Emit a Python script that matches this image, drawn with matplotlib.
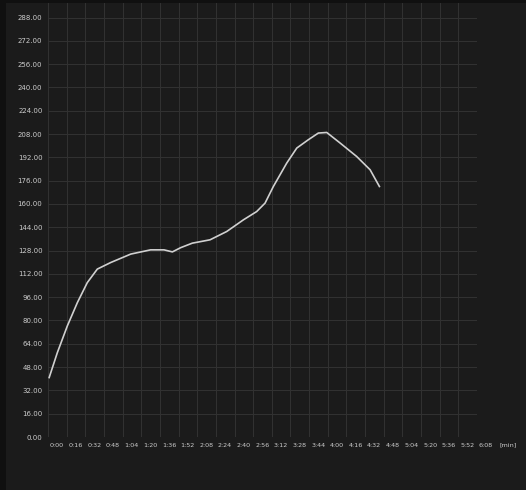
import matplotlib
matplotlib.use("Agg")
import matplotlib.pyplot as plt
from matplotlib.patches import Rectangle
import matplotlib.transforms as mtransforms

# time in seconds, value
times = [1, 8, 16.6, 25.2, 33.7, 42.3, 53.8, 71, 88, 99.5, 106.7, 113.8, 123.8,
         139, 153.3, 167.6, 179, 186.2, 193.3, 204.8, 213.4, 223.3, 231.9, 239.1,
         250.5, 264.8, 276.3, 284.3]
values = [40.8, 57.9, 76.3, 92.3, 106, 115.3, 119.8, 125.6, 128.5, 128.5, 127.1, 130, 133.1,
          135.4, 141.1, 149.1, 154.8, 160.6, 172, 188.1, 198.4, 204.1, 208.7, 209.1,
          201.9, 192.6, 183.5, 172]

y_ticks = list(range(0, 289, 16))
x_ticks = list(range(0, 369, 16))
x_labels = [f"{t // 60}:{t % 60:02d}" for t in x_ticks]
y_labels = [f"{v:.2f}" for v in y_ticks]

W, H = 526, 490
fig = plt.figure(figsize=(W / 100, H / 100), dpi=100)
fig.patch.set_facecolor("#1b1b1b")
# darker strips on left and top edges
fig.add_artist(Rectangle((0, 0), 6 / W, 1, transform=fig.transFigure,
                         facecolor="#101010", edgecolor="none", zorder=-5))
fig.add_artist(Rectangle((0, 1 - 3 / H), 1, 3 / H, transform=fig.transFigure,
                         facecolor="#101010", edgecolor="none", zorder=-5))

ax = fig.add_axes([48 / W, 1 - 437 / H, (477 - 48) / W, (437 - 3) / H])
ax.set_facecolor("#1b1b1b")
ax.set_xlim(0, 368)
ax.set_ylim(0, 298)
for s in ax.spines.values():
    s.set_visible(False)

ax.set_xticks(x_ticks)
ax.set_xticklabels(x_labels)
ax.set_yticks(y_ticks)
ax.set_yticklabels(y_labels)
ax.tick_params(axis="both", length=0, colors="#cccccc")
ax.tick_params(axis="x", labelsize=4.6, pad=4)
ax.tick_params(axis="y", labelsize=5.0, pad=4)
offset = mtransforms.ScaledTranslation(2 / 100, 0, fig.dpi_scale_trans)
for lab in ax.get_xticklabels():
    lab.set_horizontalalignment("left")
    lab.set_transform(lab.get_transform() + offset)

ax.grid(True, color="#323232", linewidth=0.7)
ax.set_axisbelow(True)

ax.plot(times, values, color="#d0d0d0", linewidth=1.2, solid_joinstyle="round")

fig.text(500 / W, 1 - 445 / H, "[min]", color="#cccccc", fontsize=4.6, va="center", ha="left")

fig.savefig("out.png", dpi=100, facecolor=fig.get_facecolor())
